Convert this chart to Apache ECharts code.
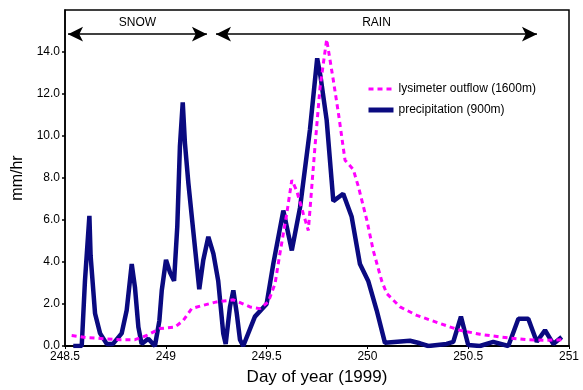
<!DOCTYPE html>
<html>
<head>
<meta charset="utf-8">
<script src="https://cdn.jsdelivr.net/npm/echarts@6/dist/echarts.min.js"></script>
<style>html,body{margin:0;padding:0;background:#fff}#c{width:583px;height:390px}</style>
</head>
<body>
<div id="c"></div>
<script>
// Day of year (1999) for precipitation (900m)
var precipDays = [248.541,248.583,248.599,248.621,248.627,248.649,248.674,248.707,248.738,248.781,248.806,248.831,248.847,248.864,248.880,248.913,248.946,248.968,248.980,249.001,249.021,249.041,249.057,249.070,249.084,249.095,249.112,249.136,249.166,249.186,249.211,249.236,249.260,249.285,249.297,249.318,249.335,249.352,249.368,249.384,249.442,249.500,249.533,249.583,249.625,249.666,249.715,249.751,249.768,249.798,249.831,249.880,249.922,249.963,250.004,250.046,250.087,250.211,250.261,250.302,250.393,250.426,250.464,250.500,250.558,250.624,250.699,250.749,250.798,250.840,250.881,250.922,250.964];
var precipValues = [0,0,3.1,6.2,4.3,1.55,0.6,0.1,0.1,0.6,1.7,3.9,2.8,0.9,0.1,0.35,0,1.2,2.65,4.1,3.5,3.1,5.7,9.5,11.6,9.65,7.75,5.5,2.7,4.1,5.2,4.4,3.1,0.6,0.1,1.85,2.65,1.55,0.3,0,1.4,2.0,3.9,6.45,4.55,6.6,10.3,13.7,12.8,10.75,6.9,7.25,6.15,3.9,3.1,1.7,0.15,0.25,0.13,0,0.1,0.2,1.4,0.05,0,0.2,0,1.3,1.3,0.2,0.75,0.1,0.43];
// Day of year (1999) for lysimeter outflow (1600m)
var lysDays = [248.533,248.608,248.690,248.773,248.847,248.905,248.971,249.046,249.087,249.128,249.186,249.252,249.335,249.418,249.467,249.508,249.542,249.566,249.600,249.625,249.649,249.682,249.707,249.740,249.765,249.798,249.831,249.856,249.889,249.930,249.955,249.997,250.029,250.071,250.096,250.162,250.245,250.360,250.459,250.558,250.658,250.790,250.889,250.972];
var lysValues = [0.5,0.4,0.35,0.3,0.3,0.5,0.83,0.9,1.22,1.78,1.94,2.1,2.2,1.86,1.78,2.1,2.97,4.4,6.3,7.9,7.4,6.3,5.5,9.5,12.3,14.6,12.65,11.1,8.85,8.4,7.6,6.0,4.55,3.1,2.5,1.86,1.46,1.07,0.75,0.56,0.43,0.3,0.27,0.3];
// Period annotations
var periodNames = ['SNOW', 'RAIN'];
var periodStart = [248.515, 249.249];
var periodEnd = [249.204, 250.841];
var periodLevel = 14.85;
var seriesNames = ['lysimeter outflow (1600m)', 'precipitation (900m)'];

function pairs(xs, ys) { return xs.map(function (x, i) { return [x, ys[i]]; }); }

var FONT = "'Liberation Sans', Arial, Helvetica, sans-serif";
var chart = echarts.init(document.getElementById('c'), null, {renderer: 'canvas'});
chart.setOption({
  animation: false,
  backgroundColor: '#fff',
  textStyle: {fontFamily: FONT, color: '#000'},
  grid: {left: 65, right: 14, top: 10, bottom: 44, outerBoundsMode: 'none', containLabel: false,
    show: true, borderColor: '#000', borderWidth: 1.5, backgroundColor: 'transparent'},
  legend: {
    orient: 'vertical', left: 361, top: 78, itemWidth: 25, itemHeight: 14, itemGap: 9,
    data: [
      {name: seriesNames[0], lineStyle: {width: 3}},
      {name: seriesNames[1], lineStyle: {width: 5}}
    ],
    itemStyle: {opacity: 0},
    textStyle: {fontFamily: FONT, fontSize: 12, color: '#000'}
  },
  xAxis: {
    type: 'value', min: 248.5, max: 251, interval: 0.5,
    name: 'Day of year (1999)', nameLocation: 'middle', nameGap: 23,
    nameTextStyle: {fontFamily: FONT, fontSize: 17, color: '#000', verticalAlign: 'top'},
    axisLine: {show: true, onZero: false, lineStyle: {color: '#000', width: 2}},
    axisTick: {show: true, length: 3, lineStyle: {color: '#000'}},
    axisLabel: {fontFamily: FONT, fontSize: 12, color: '#000', margin: 5},
    splitLine: {show: false}
  },
  yAxis: {
    type: 'value', min: 0, max: 16, interval: 2,
    name: 'mm/hr', nameLocation: 'middle', nameGap: 34,
    nameTextStyle: {fontFamily: FONT, fontSize: 16, color: '#000'},
    axisLine: {show: true, lineStyle: {color: '#000', width: 1.5}},
    axisTick: {show: true, length: 3, lineStyle: {color: '#000', width: 1.5}},
    axisLabel: {fontFamily: FONT, fontSize: 12, color: '#000', margin: 5, showMaxLabel: false,
      formatter: function (v) { return v.toFixed(1); }},
    splitLine: {show: false}
  },
  series: [
    {
      name: seriesNames[0], type: 'line', data: pairs(lysDays, lysValues),
      symbol: 'none', z: 3,
      lineStyle: {color: '#ff00ff', width: 3, type: [5, 4]},
      itemStyle: {color: '#ff00ff'}
    },
    {
      name: seriesNames[1], type: 'line', data: pairs(precipDays, precipValues),
      symbol: 'none', z: 2,
      lineStyle: {color: '#0a0a80', width: 4.5},
      itemStyle: {color: '#0a0a80'},
      markLine: {
        silent: true,
        symbol: ['arrow', 'arrow'], symbolSize: [11, 15],
        lineStyle: {color: '#000', width: 1.5, type: 'solid'},
        label: {show: true, position: 'middle', formatter: '{b}', fontFamily: FONT, fontSize: 12, color: '#000', distance: 5},
        data: periodNames.map(function (n, i) {
          return [{name: n, coord: [periodStart[i], periodLevel]}, {coord: [periodEnd[i], periodLevel]}];
        })
      }
    }
  ]
});
</script>
</body>
</html>
